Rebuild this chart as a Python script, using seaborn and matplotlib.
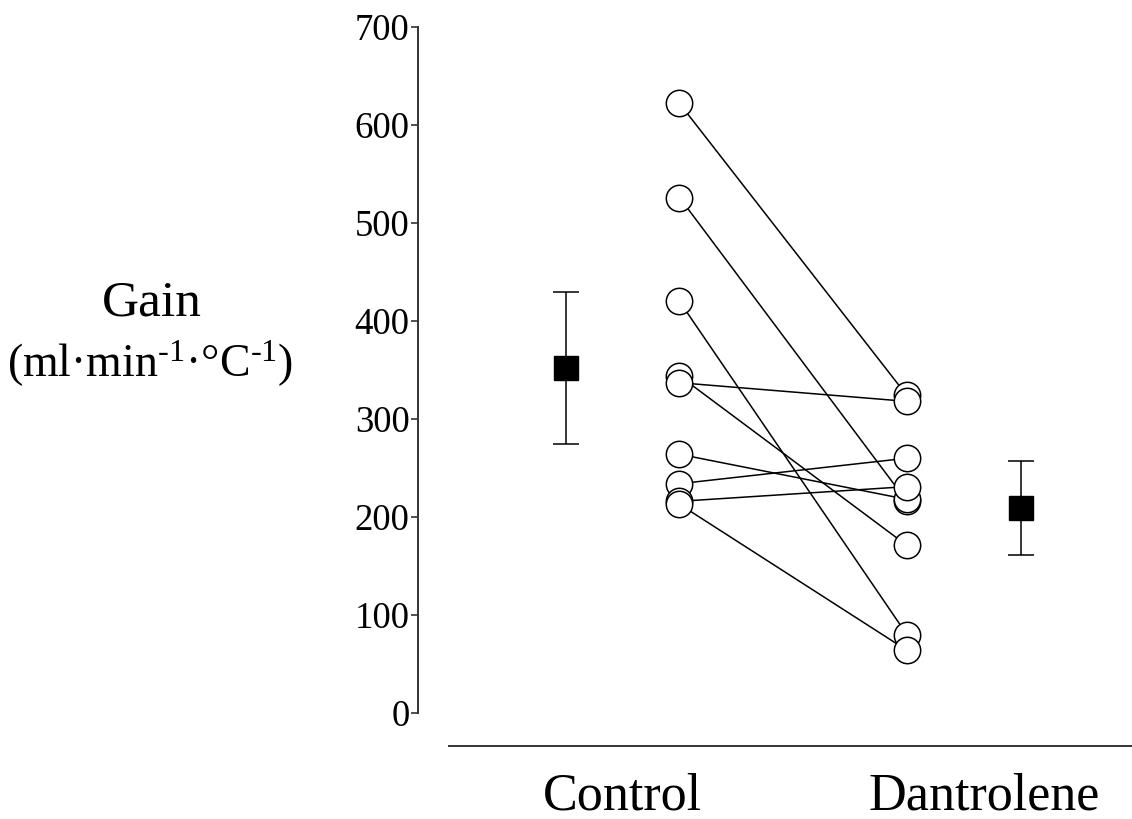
import numpy as np
import pandas as pd
import seaborn as sns
import matplotlib
matplotlib.use("Agg")
import matplotlib.pyplot as plt

# individual subjects, gain (ml/min/degC)
control = [622, 526, 420, 344, 337, 264, 234, 216, 213]
dantrolene = [324, 216, 80, 171, 318, 218, 260, 231, 64]

# group means with error bars
groups = ["Control", "Dantrolene"]
group_mean = [352, 209]
group_err = [78, 48]

# x positions on the axis
pos_mean = [0, 4]
pos_subject = [1, 3]
pos_label = [0.5, 3.68]

sns.set_theme(style="ticks")
plt.rcParams["font.family"] = ["Liberation Serif", "DejaVu Serif"]
plt.rcParams["mathtext.fontset"] = "custom"
plt.rcParams["mathtext.rm"] = "Liberation Serif"
plt.rcParams["mathtext.it"] = "Liberation Serif:italic"
plt.rcParams["text.color"] = "black"
plt.rcParams["xtick.color"] = "black"
plt.rcParams["ytick.color"] = "black"

df = pd.DataFrame({
    "subject": list(range(len(control))) * 2,
    "x": [pos_subject[0]] * len(control) + [pos_subject[1]] * len(dantrolene),
    "gain": control + dantrolene,
})

fig = plt.figure(figsize=(11.32, 8.19), dpi=100)
ax = fig.add_axes([418 / 1132, 1 - 713 / 819, 714 / 1132, 686 / 819])

sns.lineplot(data=df, x="x", y="gain", units="subject", estimator=None,
             color="black", lw=1.1, marker="o", markersize=19,
             markerfacecolor="white", markeredgecolor="black",
             markeredgewidth=1.1, ax=ax, legend=False)

ax.errorbar(pos_mean, group_mean, yerr=group_err, fmt="s", color="black",
            markersize=17, elinewidth=1.1, capsize=9.5, capthick=1.1, zorder=5)

ax.set_xlim(-1.30, 4.98)
ax.set_ylim(0, 700)
ax.set_yticks(range(0, 701, 100))
ax.set_xticks(pos_label)
ax.set_xticklabels(groups)
ax.set_xlabel("")
ax.set_ylabel("")

sns.despine(ax=ax, top=True, right=True)
ax.spines["left"].set_bounds(0, 700)
ax.spines["bottom"].set_position(("outward", 24))
ax.spines["bottom"].set_bounds(-1.03, 4.98)
for s in ["left", "bottom"]:
    ax.spines[s].set_linewidth(1.4)
    ax.spines[s].set_color("#333333")

ax.tick_params(axis="y", length=5, width=1.2, color="#333333",
               labelsize=26.5, pad=1, direction="out")
ax.tick_params(axis="x", length=0, labelsize=37.5, pad=19)

fig.text(152 / 1132, 1 - 303 / 819, "Gain", ha="center", va="center",
         fontsize=37)
fig.text(150 / 1132, 1 - 364 / 819,
         "(ml·min$^{\\text{-1}}$·°C$^{\\text{-1}}$)",
         ha="center", va="center", fontsize=33)

fig.savefig("out.png", dpi=100)
